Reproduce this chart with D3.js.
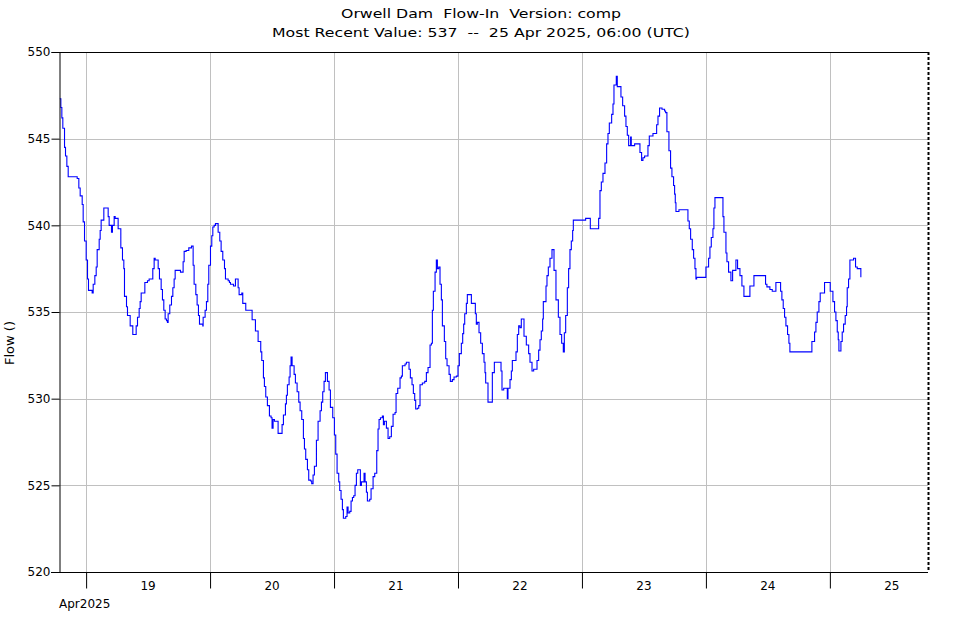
<!DOCTYPE html>
<html>
<head>
<meta charset="utf-8">
<script src="https://cdn.jsdelivr.net/npm/d3@7"></script>
<style>
  html, body { margin: 0; padding: 0; background: #fff; }
  svg { display: block; }
  text { font-family: "DejaVu Sans", Verdana, sans-serif; fill: #000; }
</style>
</head>
<body>
<svg id="chart" width="961" height="620"></svg>
<script>
// ---- data (hours since 2025-04-19 00:00 UTC, flow values) ----
const titleLines = ["Orwell Dam  Flow-In  Version: comp",
                    "Most Recent Value: 537  --  25 Apr 2025, 06:00 (UTC)"];
const yLabel = "Flow ()";
const monthLabel = "Apr2025";
const yTicks = [520, 525, 530, 535, 540, 545, 550];
const dayTicks = [19, 20, 21, 22, 23, 24, 25];

const hours = [
-5.09,-4.89,-4.70,-4.51,-4.18,-3.99,-3.73,-3.47,-1.73,-1.41,-1.15,-0.76,-0.57,-0.31,0.01,0.27,0.46,1.17,1.37,1.69,
1.95,2.14,2.53,2.72,2.91,3.43,4.27,4.46,4.91,5.10,5.43,5.62,6.20,6.72,7.04,7.30,7.43,7.82,8.01,8.53,
9.04,9.69,9.95,10.27,10.46,10.66,11.37,11.88,12.20,12.91,13.17,13.37,13.95,14.20,14.53,14.78,15.04,15.30,15.56,15.75,
15.88,16.20,16.53,16.79,17.04,17.24,18.27,18.78,18.98,19.37,19.88,20.40,20.72,20.91,21.24,21.49,21.75,21.95,22.59,22.66,
23.04,23.30,23.56,23.75,24.08,24.33,24.53,24.79,25.04,25.56,25.88,26.14,26.46,26.79,26.98,27.50,27.75,27.95,28.53,28.91,
29.43,29.62,30.14,30.33,30.91,32.14,32.78,33.30,33.81,34.01,34.33,34.52,34.78,35.10,35.49,35.81,36.00,36.20,36.46,37.17,
37.94,38.20,38.59,38.78,38.97,39.30,39.49,39.68,39.88,40.27,40.52,40.85,41.17,41.43,41.75,42.07,42.27,42.52,42.85,43.10,
43.49,43.68,43.94,44.20,44.59,44.91,45.30,45.56,45.81,46.07,46.33,46.72,47.04,47.30,47.75,48.07,48.33,48.59,48.91,49.10,
49.36,49.62,49.81,50.27,50.52,50.72,51.04,51.30,51.56,51.81,52.07,52.33,52.59,53.10,53.30,53.81,54.01,54.27,54.46,54.91,
55.17,55.56,55.88,56.27,56.52,56.72,56.98,57.36,57.56,57.75,58.14,58.46,58.78,59.10,59.43,59.81,60.01,60.33,60.78,61.04,
61.23,61.75,62.01,62.52,62.78,63.10,63.36,63.62,63.81,64.14,64.40,64.65,65.10,65.56,65.88,66.20,66.59,66.85,67.04,67.23,
67.56,67.81,68.01,68.27,68.52,68.78,68.98,69.36,69.62,69.88,70.27,70.52,70.91,71.23,71.69,72.00,72.26,72.65,72.91,73.10,
73.30,73.62,73.81,74.59,75.36,75.55,75.75,76.07,76.39,76.72,77.04,77.23,77.36,77.81,78.65,79.04,80.33,80.52,80.85,81.55,
81.68,82.07,82.33,82.52,83.23,83.49,83.75,84.00,84.26,84.78,85.23,85.68,85.94,86.33,86.65,87.30,87.62,87.88,88.13,88.39,
88.52,89.04,89.23,89.49,89.81,90.20,90.59,90.97,91.43,91.75,92.07,92.39,92.59,92.85,93.17,93.42,93.68,93.94,94.20,94.33,
96.71,97.62,99.23,99.49,99.75,100.07,100.46,100.78,101.04,101.30,101.75,102.01,102.20,102.65,102.84,103.55,103.88,104.26,104.52,104.78,
105.04,105.42,105.55,106.20,107.23,107.55,107.81,108.13,108.78,109.04,109.75,110.46,110.72,111.03,111.50,112.00,112.20,112.45,112.84,113.16,
113.42,113.74,113.94,114.07,114.20,114.78,116.52,116.78,117.04,117.36,117.62,117.88,118.07,118.20,120.00,120.52,120.78,121.04,121.36,121.55,
121.75,123.30,123.49,123.88,124.07,124.39,124.84,125.17,125.81,126.13,126.59,126.97,127.36,128.52,129.30,131.55,131.81,132.39,132.84,133.55,
134.46,134.71,134.97,135.23,135.49,135.81,136.07,136.26,140.52,141.04,141.30,141.55,141.88,142.13,142.97,144.07,144.59,144.91,145.17,145.43,
145.62,145.75,146.14,146.39,146.65,146.97,147.23,147.36,147.62,147.88,148.59,148.97,149.30,150.00
];
const flow = [
547.3,546.8,546.2,545.6,544.5,544.0,543.4,542.8,542.7,542.15,541.7,541.2,540.2,539.1,538.0,536.9,536.25,536.1,536.6,537.1,
537.6,538.6,539.2,539.7,540.3,541.0,540.5,540.0,539.6,540.0,540.5,540.4,539.8,538.7,538.0,537.5,535.9,535.3,534.8,534.2,
533.7,534.2,534.7,535.2,535.6,536.1,536.7,536.8,536.9,537.5,538.1,538.0,537.5,536.9,536.3,535.7,535.1,534.6,534.5,534.4,
534.9,535.4,535.9,536.4,536.9,537.4,537.3,537.9,538.5,538.55,538.7,538.8,537.7,536.6,536.0,535.4,534.8,534.3,534.2,534.7,
535.1,535.6,536.6,537.7,538.8,539.4,539.9,540.0,540.1,539.6,539.1,538.5,538.0,537.5,536.9,536.8,536.7,536.6,536.5,536.9,
536.4,536.0,536.1,535.5,535.1,534.55,533.9,533.3,532.7,532.2,531.2,530.7,530.1,529.6,529.0,528.9,528.3,528.8,528.7,528.0,
528.5,529.06,529.7,530.2,530.8,531.25,531.9,532.4,531.9,531.4,530.9,530.4,529.8,529.3,528.8,527.7,527.1,526.5,525.9,525.3,
525.25,525.1,525.6,526.1,527.6,528.7,529.3,529.8,530.4,531.0,531.5,531.0,530.5,529.5,528.9,527.9,526.8,525.7,525.2,524.7,
524.2,523.6,523.1,523.2,523.75,523.4,523.5,524.1,524.3,524.4,525.0,525.7,525.9,525.0,525.2,525.7,525.2,524.6,524.1,524.2,
524.8,525.5,525.7,527.0,528.25,528.8,528.9,529.0,528.5,528.7,528.3,527.7,527.8,528.4,529.1,529.2,530.3,530.6,531.2,531.3,
531.9,532.0,532.1,531.7,531.2,530.8,530.3,529.9,529.4,529.45,529.6,530.8,530.9,531.0,531.5,531.8,533.1,533.2,535.1,536.2,
537.3,538.0,537.5,537.6,536.6,535.7,534.2,533.3,532.3,531.9,531.4,531.0,531.1,531.25,531.3,531.9,532.6,533.2,533.75,534.3,
534.9,535.5,536.0,535.5,534.9,534.3,534.4,533.8,533.2,532.6,532.1,531.5,530.9,529.8,531.5,532.1,531.6,530.5,530.6,530.0,
530.6,531.1,531.6,532.2,532.7,533.7,534.2,534.1,534.6,533.6,533.1,532.6,532.1,531.6,531.7,532.2,532.8,533.4,533.9,534.6,
535.6,536.5,537.1,537.6,538.1,538.6,537.4,535.7,534.7,533.7,533.2,532.7,533.8,534.8,536.4,537.5,538.6,539.1,539.7,540.3,
540.4,539.8,540.4,542.0,542.5,543.0,543.6,544.7,545.3,545.9,546.4,547.0,548.1,548.6,548.0,547.4,546.9,546.3,545.7,545.2,
544.6,545.1,544.6,544.7,544.2,543.75,543.9,544.0,544.6,545.15,545.3,545.8,546.3,546.77,546.7,546.6,546.5,545.4,544.3,543.3,
542.8,542.3,541.8,541.3,540.8,540.9,540.25,539.8,539.2,538.6,538.1,537.5,536.9,537.0,537.6,538.1,538.75,539.3,539.8,541.0,
541.6,540.5,539.6,538.4,537.9,537.3,536.8,537.4,538.0,537.5,537.1,536.5,535.9,536.5,537.1,536.6,536.45,536.3,536.2,536.7,
536.2,535.7,535.2,534.7,534.2,533.7,533.2,532.7,533.3,533.85,534.4,535.0,535.6,536.1,536.7,536.2,535.6,535.0,534.5,533.85,
533.4,532.75,533.3,533.85,534.3,534.8,535.3,536.4,536.9,538.0,538.1,537.6,537.5,537.0
];

// ---- scales ----
const base = Date.UTC(2025, 3, 19, 0, 0);
const HOUR = 3600e3;
const toDate = h => new Date(base + h * HOUR);
const data = hours.map((h, i) => ({ t: toDate(h), v: flow[i] }));

const svg = d3.select("#chart");
const mLeft = 59, mRight = 928, mTop = 52, mBottom = 572;

const x = d3.scaleUtc()
  .domain([toDate(-5.25), toDate(163)])
  .range([mLeft, mRight]);
const y = d3.scaleLinear().domain([520, 550]).range([mBottom, mTop]);

const dayDates = dayTicks.map(d => new Date(Date.UTC(2025, 3, d)));

// grid
const grid = svg.append("g").attr("stroke", "#c0c0c0").attr("stroke-width", 1);
grid.selectAll("line.h").data(yTicks.filter(v => v > 520 && v < 550)).join("line")
  .attr("class", "h")
  .attr("x1", mLeft).attr("x2", mRight)
  .attr("y1", d => Math.round(y(d)) + 0.5).attr("y2", d => Math.round(y(d)) + 0.5);
grid.selectAll("line.v").data(dayDates).join("line")
  .attr("class", "v")
  .attr("x1", d => Math.round(x(d)) + 0.5).attr("x2", d => Math.round(x(d)) + 0.5)
  .attr("y1", mTop).attr("y2", mBottom);

// data line
const line = d3.line().x(d => x(d.t)).y(d => y(d.v)).curve(d3.curveStepAfter);
svg.append("path").datum(data)
  .attr("fill", "none").attr("stroke", "#0000ff").attr("stroke-width", 1.1)
  .attr("d", line);

// frame: top solid, right dashed
svg.append("line").attr("x1", mLeft).attr("x2", mRight).attr("y1", mTop + 0.5).attr("y2", mTop + 0.5)
  .attr("stroke", "#000");
svg.append("line").attr("x1", mRight + 0.5).attr("x2", mRight + 0.5).attr("y1", mTop).attr("y2", mBottom)
  .attr("stroke", "#000").attr("stroke-width", 2).attr("stroke-dasharray", "3,2");

// y axis
const yAxis = d3.axisLeft(y).tickValues(yTicks).tickSize(8).tickPadding(1).tickFormat(d3.format("d"));
const gy = svg.append("g").attr("transform", `translate(${mLeft + 0.5},0)`).call(yAxis);
gy.select(".domain").attr("stroke", "#000");
gy.selectAll(".tick line").attr("stroke", "#000");
gy.selectAll(".tick text").attr("font-size", 12).attr("font-family", "DejaVu Sans");

// x axis
const xAxis = d3.axisBottom(x).tickValues(dayDates).tickSize(16).tickFormat("").tickSizeOuter(0);
const gx = svg.append("g").attr("transform", `translate(0,${mBottom + 0.5})`).call(xAxis);
gx.select(".domain").attr("stroke", "#000").attr("d", `M${mLeft - 8},0H${mRight}`);
gx.selectAll(".tick line").attr("stroke", "#000");

// day labels at noon
svg.append("g").selectAll("text").data(dayTicks).join("text")
  .attr("x", d => x(new Date(Date.UTC(2025, 3, d, 12))))
  .attr("y", 590)
  .attr("text-anchor", "middle")
  .attr("font-size", 12)
  .text(d => d);

svg.append("text").attr("x", mLeft).attr("y", 608).attr("font-size", 12).text(monthLabel);

// titles
svg.append("text").attr("x", 481).attr("y", 18).attr("text-anchor", "middle")
  .attr("font-size", 13).style("white-space", "pre")
  .attr("textLength", 280).attr("lengthAdjust", "spacingAndGlyphs")
  .text(titleLines[0]);
svg.append("text").attr("x", 481).attr("y", 37).attr("text-anchor", "middle")
  .attr("font-size", 13).style("white-space", "pre")
  .attr("textLength", 418).attr("lengthAdjust", "spacingAndGlyphs")
  .text(titleLines[1]);

// y label
svg.append("text").attr("transform", "translate(14,343) rotate(-90)")
  .attr("text-anchor", "middle").attr("font-size", 13)
  .text(yLabel);
</script>
</body>
</html>
